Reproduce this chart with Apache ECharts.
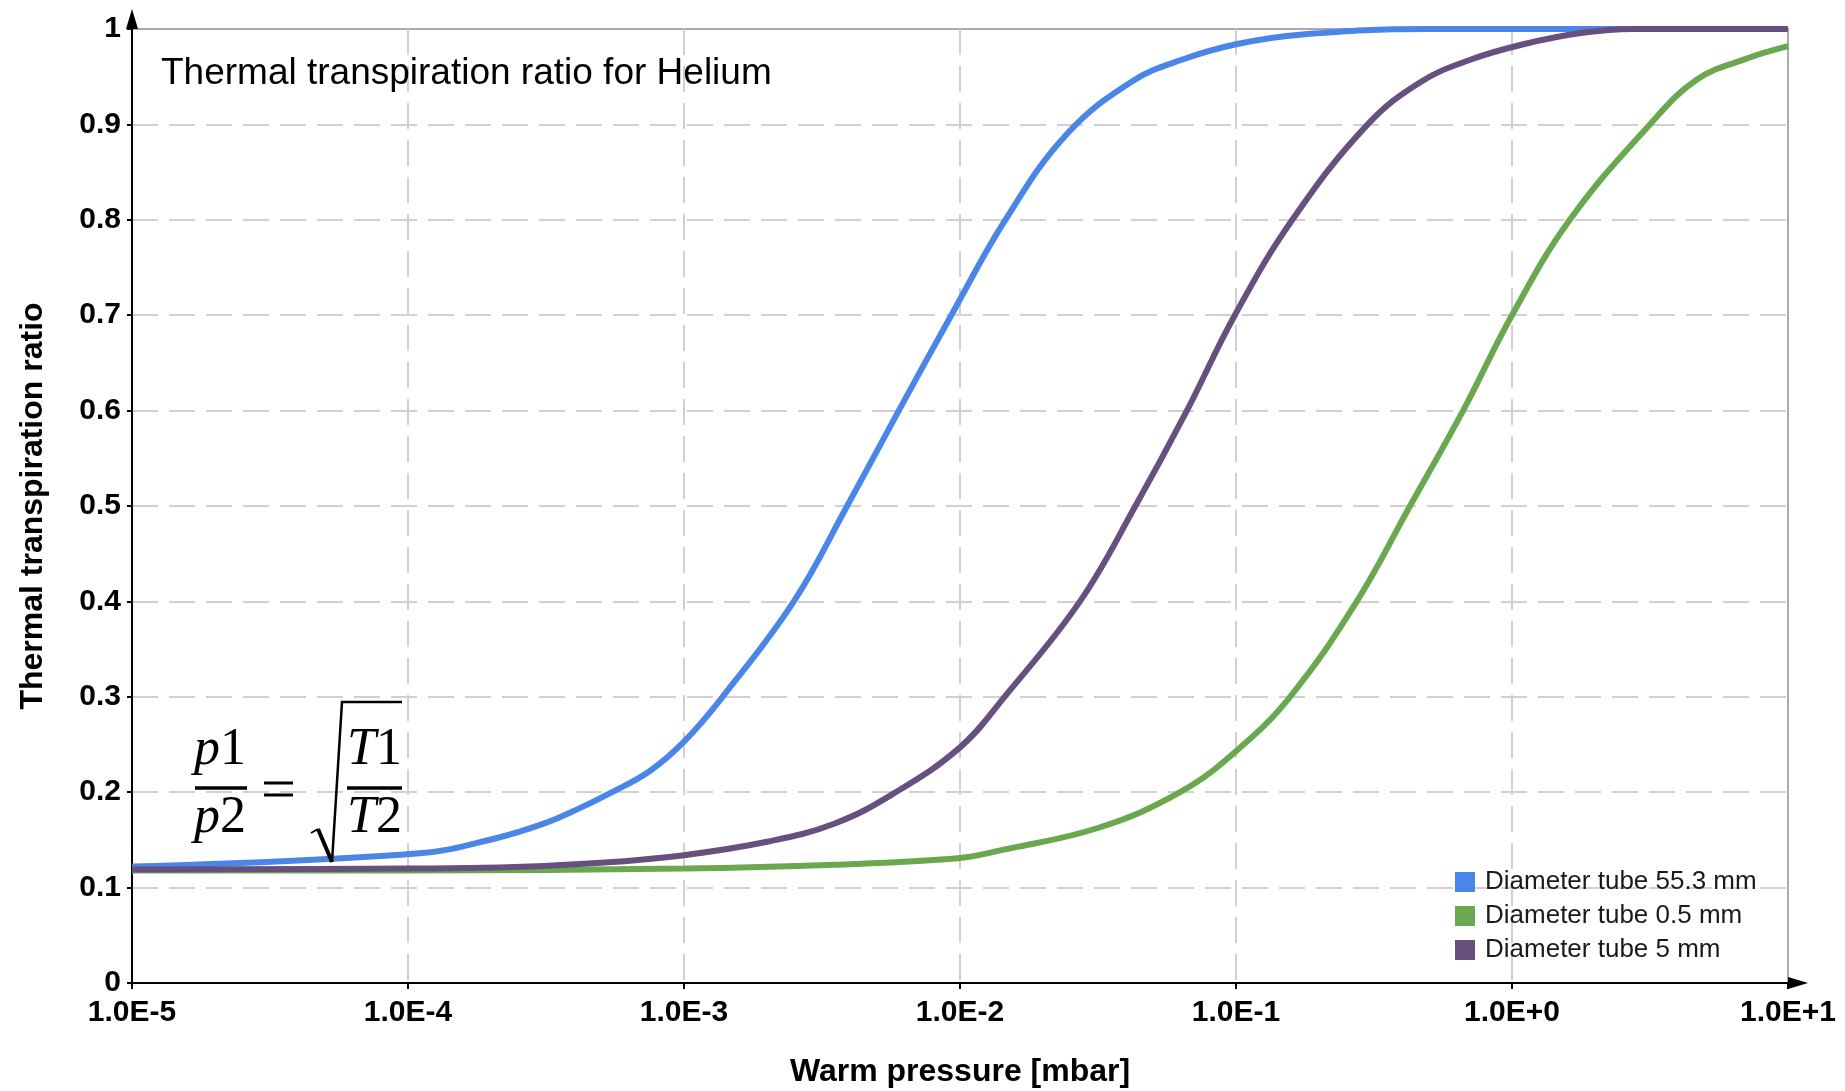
<!DOCTYPE html>
<html>
<head>
<meta charset="utf-8">
<script src="https://cdn.jsdelivr.net/npm/echarts@6/dist/echarts.min.js"></script>
<style>
  html, body { margin: 0; padding: 0; background: #fff; }
  #chart { width: 1845px; height: 1091px; }
</style>
</head>
<body>
<div id="chart"></div>
<script>
// ---- data ----
const chartTitle = 'Thermal transpiration ratio for Helium';
const xAxisName = 'Warm pressure [mbar]';
const yAxisName = 'Thermal transpiration ratio';
const xTickLabels = ['1.0E-5', '1.0E-4', '1.0E-3', '1.0E-2', '1.0E-1', '1.0E+0', '1.0E+1'];
const seriesNames = ['Diameter tube 55.3 mm', 'Diameter tube 0.5 mm', 'Diameter tube 5 mm'];
const seriesColors = ['#4a86e8', '#6aa84f', '#674f7e'];

// Diameter tube 55.3 mm
const bluePressure = [1e-5, 1.1e-4, 2.1e-4, 3.1e-4, 4.1e-4, 5.4e-4, 7.5e-4, 1e-3, 1.38e-3, 2.5e-3, 3.9e-3, 6e-3, 9.3e-3, 1.46e-2, 2.44e-2, 4.2e-2, 6.4e-2, 0.1, 0.17, 0.5, 10];
const blueRatio    = [0.122, 0.136, 0.152, 0.167, 0.182, 0.199, 0.222, 0.253, 0.3, 0.4, 0.5, 0.6, 0.7, 0.8, 0.89, 0.945, 0.968, 0.984, 0.994, 1.0, 1.0];

// Diameter tube 0.5 mm
const greenPressure = [1e-5, 1e-4, 1e-3, 3.5e-3, 0.01, 0.014, 0.032, 0.0627, 0.1, 0.157, 0.274, 0.427, 0.665, 1.0, 1.62, 3.16, 4.68, 7.08, 10];
const greenRatio    = [0.118, 0.118, 0.120, 0.124, 0.131, 0.139, 0.163, 0.2, 0.243, 0.3, 0.4, 0.5, 0.6, 0.7, 0.8, 0.9, 0.947, 0.969, 0.982];

// Diameter tube 5 mm
const purplePressure = [1e-5, 1e-4, 2.15e-4, 5e-4, 1e-3, 2e-3, 3.5e-3, 5.7e-3, 0.01, 0.0145, 0.0272, 0.0432, 0.0664, 0.099, 0.16, 0.3, 0.47, 0.71, 1.1, 1.8, 2.75, 10];
const purpleRatio    = [0.119, 0.12, 0.121, 0.126, 0.134, 0.148, 0.167, 0.198, 0.247, 0.3, 0.4, 0.5, 0.6, 0.7, 0.8, 0.9, 0.945, 0.968, 0.984, 0.996, 1.0, 1.0];

function pairs(xs, ys) { return xs.map((x, i) => [x, ys[i]]); }

const chart = echarts.init(document.getElementById('chart'), null, { renderer: 'canvas' });

const sans = 'Liberation Sans, Arial, sans-serif';
const labelFont = { fontFamily: sans, fontWeight: 'bold', fontSize: 30, color: '#000' };
const nameFont = { fontFamily: sans, fontWeight: 'bold', fontSize: 32, color: '#000' };
const gridLine = { show: true, showMinLine: false, showMaxLine: false, lineStyle: { color: '#d0d0d0', width: 2, type: [26, 11] } };
const serif = 'Liberation Serif, Times New Roman, serif';

function lineSeries(name, data, color) {
  return {
    name: name, type: 'line', data: data, showSymbol: false, symbol: 'none',
    smooth: 0.4,
    lineStyle: { color: color, width: 6 }, itemStyle: { color: color }
  };
}

chart.setOption({
  animation: false,
  backgroundColor: '#fff',
  title: {
    text: chartTitle, left: 161, top: 55, padding: 0,
    textStyle: { fontFamily: sans, fontWeight: 'normal', fontSize: 37, color: '#000' }
  },
  grid: { left: 132, right: 57, top: 29, bottom: 108, outerBoundsMode: 'none', containLabel: false, show: true, borderColor: '#aaaaaa', borderWidth: 2, backgroundColor: 'transparent' },
  legend: {
    orient: 'vertical', left: 1450, top: 864, icon: 'rect', itemWidth: 20, itemHeight: 20, itemGap: 8,
    data: seriesNames,
    itemStyle: { borderWidth: 0 },
    textStyle: { fontFamily: sans, fontSize: 26, color: '#1a1a1a', padding: [0, 0, 0, 5] }
  },
  xAxis: {
    type: 'log', logBase: 10, min: 1e-5, max: 10, splitNumber: 6,
    name: xAxisName, nameLocation: 'middle', nameGap: 73,
    nameTextStyle: nameFont,
    axisLine: { show: true, onZero: false, lineStyle: { color: '#000', width: 2 }, symbol: ['none', 'triangle'], symbolSize: [12, 20], symbolOffset: [0, 10] },
    axisTick: { show: true, length: 6, lineStyle: { color: '#000', width: 2 } },
    minorTick: { show: false },
    axisLabel: Object.assign({ margin: 15, formatter: function (v) { const e = Math.round(Math.log10(v)); return xTickLabels[e + 5]; } }, labelFont),
    splitLine: gridLine
  },
  yAxis: {
    type: 'value', min: 0, max: 1, interval: 0.1,
    name: yAxisName, nameLocation: 'middle', nameGap: 83, nameRotate: 90,
    nameTextStyle: nameFont,
    axisLine: { show: true, lineStyle: { color: '#000', width: 2 }, symbol: ['none', 'triangle'], symbolSize: [12, 20], symbolOffset: [0, 10] },
    axisTick: { show: true, length: 5, lineStyle: { color: '#000', width: 2 } },
    axisLabel: Object.assign({ margin: 11 }, labelFont),
    splitLine: gridLine
  },
  series: [
    lineSeries(seriesNames[0], pairs(bluePressure, blueRatio), seriesColors[0]),
    lineSeries(seriesNames[1], pairs(greenPressure, greenRatio), seriesColors[1]),
    lineSeries(seriesNames[2], pairs(purplePressure, purpleRatio), seriesColors[2])
  ],
  graphic: [
    // formula  p1/p2 = sqrt(T1/T2)
    { type: 'text', z: 100, style: { text: 'p', x: 194, y: 750, font: 'italic 52px ' + serif, fill: '#000', verticalAlign: 'middle' } },
    { type: 'text', z: 100, style: { text: '1', x: 220, y: 750, font: '52px ' + serif, fill: '#000', verticalAlign: 'middle' } },
    { type: 'line', z: 100, shape: { x1: 195, y1: 788, x2: 247, y2: 788 }, style: { stroke: '#000', lineWidth: 3.5 } },
    { type: 'text', z: 100, style: { text: 'p', x: 194, y: 818, font: 'italic 52px ' + serif, fill: '#000', verticalAlign: 'middle' } },
    { type: 'text', z: 100, style: { text: '2', x: 220, y: 818, font: '52px ' + serif, fill: '#000', verticalAlign: 'middle' } },
    { type: 'line', z: 100, shape: { x1: 264, y1: 783, x2: 293, y2: 783 }, style: { stroke: '#000', lineWidth: 3 } },
    { type: 'line', z: 100, shape: { x1: 264, y1: 795, x2: 293, y2: 795 }, style: { stroke: '#000', lineWidth: 3 } },
    { type: 'polyline', z: 100, shape: { points: [[311, 833], [318, 829]] }, style: { stroke: '#000', lineWidth: 2, fill: null } },
    { type: 'polyline', z: 100, shape: { points: [[318, 829], [332, 862]] }, style: { stroke: '#000', lineWidth: 4, fill: null } },
    { type: 'polyline', z: 100, shape: { points: [[332, 862], [342, 702], [402, 702]] }, style: { stroke: '#000', lineWidth: 2.5, fill: null } },
    { type: 'text', z: 100, style: { text: 'T', x: 347, y: 750, font: 'italic 52px ' + serif, fill: '#000', verticalAlign: 'middle' } },
    { type: 'text', z: 100, style: { text: '1', x: 376, y: 750, font: '52px ' + serif, fill: '#000', verticalAlign: 'middle' } },
    { type: 'line', z: 100, shape: { x1: 347, y1: 788, x2: 402, y2: 788 }, style: { stroke: '#000', lineWidth: 3.5 } },
    { type: 'text', z: 100, style: { text: 'T', x: 347, y: 818, font: 'italic 52px ' + serif, fill: '#000', verticalAlign: 'middle' } },
    { type: 'text', z: 100, style: { text: '2', x: 376, y: 818, font: '52px ' + serif, fill: '#000', verticalAlign: 'middle' } }
  ]
});
</script>
</body>
</html>
